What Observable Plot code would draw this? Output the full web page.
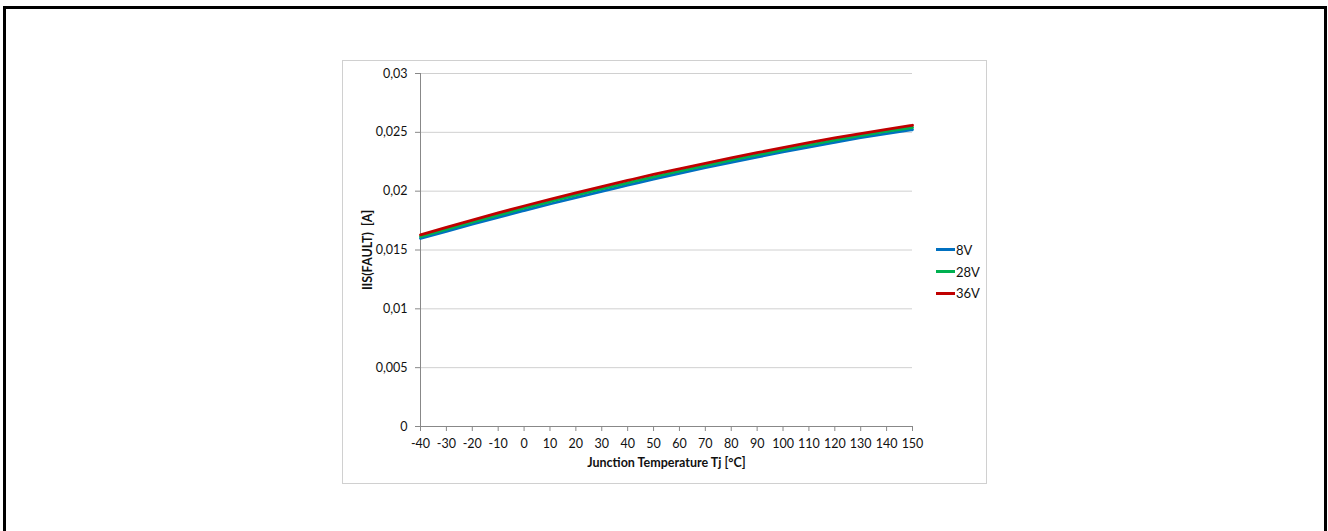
<!DOCTYPE html>
<html>
<head>
<meta charset="utf-8">
<script src="https://cdn.jsdelivr.net/npm/d3@7"></script>
<script src="https://cdn.jsdelivr.net/npm/@observablehq/plot@0.6"></script>
<style>
  html, body { margin: 0; padding: 0; background: #fff; overflow: hidden; }
  body { width: 1328px; height: 531px; position: relative; font-family: Lato, "Open Sans", sans-serif; }
  #outer { position: absolute; left: 3px; top: 6px; width: 1318px; height: 600px; border: 3px solid #000; box-sizing: content-box; }
  #frame { position: absolute; left: 342px; top: 60px; width: 643px; height: 422px; border: 1px solid #d0d0d0; }
  #chart { position: absolute; left: 0; top: 0; }
  #chart svg { background: transparent !important; }
  #chart g[aria-label="x-axis label"] text, #chart g[aria-label="y-axis label"] text { font-weight: bold; white-space: pre; }
  #legend { position: absolute; left: 936px; top: 239px; font-size: 13px; color: #111; }
  #legend .item { display: flex; align-items: center; height: 21.7px; }
  #legend .sw { width: 19px; height: 3px; margin-right: 1px; }
</style>
</head>
<body>
<div id="outer"></div>
<div id="frame"></div>
<div id="chart"></div>
<div id="legend"></div>
<script>
const temps = [-40,-30,-20,-10,0,10,20,30,40,50,60,70,80,90,100,110,120,130,140,150];
const v8  = [0.01598,0.01659,0.01719,0.01778,0.01835,0.01891,0.01946,0.01999,0.02051,0.02103,0.02152,0.02199,0.02245,0.02290,0.02333,0.02375,0.02415,0.02454,0.02490,0.02522];
const v28 = [0.01613,0.01676,0.01737,0.01797,0.01855,0.01911,0.01966,0.02019,0.02071,0.02122,0.02170,0.02217,0.02263,0.02308,0.02351,0.02393,0.02434,0.02472,0.02509,0.02541];
const v36 = [0.01628,0.01692,0.01754,0.01815,0.01874,0.01931,0.01986,0.02039,0.02091,0.02142,0.02190,0.02237,0.02283,0.02327,0.02370,0.02412,0.02452,0.02490,0.02526,0.02560];
const seriesNames = ["8V","28V","36V"];
const seriesColors = ["#0070c0","#00b050","#c00000"];
const yTicks = [0,0.005,0.01,0.015,0.02,0.025,0.03];
const yTickLabels = ["0","0,005","0,01","0,015","0,02","0,025","0,03"];
const xTicks = temps;
const xTitle = "Junction Temperature Tj [°C]";
const yTitle = "IIS(FAULT)  [A]";

const seriesValues = [v8, v28, v36];
const data = [];
seriesNames.forEach((name, i) => temps.forEach((t, j) => data.push({series: name, t, v: seriesValues[i][j]})));

const chart = Plot.plot({
  width: 1328,
  height: 531,
  marginLeft: 420,
  marginRight: 416,
  marginTop: 73,
  marginBottom: 105,
  style: {fontFamily: "Lato, 'Open Sans', sans-serif", fontSize: "12.5px", color: "#111", background: "transparent"},
  x: {domain: [-40, 150]},
  y: {domain: [0, 0.03]},
  color: {domain: seriesNames, range: seriesColors},
  marks: [
    Plot.ruleY(yTicks.slice(1), {stroke: "#d0d0d0", strokeWidth: 1}),
    Plot.axisY({ticks: yTicks, tickFormat: d => yTickLabels[yTicks.indexOf(d)], tickSize: 5, tickPadding: 8, stroke: "#888", label: yTitle, labelAnchor: "center", labelOffset: 57, labelArrow: "none"}),
    Plot.axisX({ticks: xTicks, tickFormat: d => String(d), tickSize: 5, tickPadding: 8, stroke: "#888", label: xTitle, labelAnchor: "center", labelOffset: 40, labelArrow: "none"}),
    Plot.ruleY([0], {stroke: "#888"}),
    Plot.ruleX([-40], {stroke: "#888"}),
    Plot.line(data, {x: "t", y: "v", z: "series", stroke: "series", strokeWidth: 2.8, curve: "monotone-x"})
  ]
});
document.getElementById("chart").appendChild(chart);

const legend = document.getElementById("legend");
seriesNames.forEach((name, i) => {
  const item = document.createElement("div");
  item.className = "item";
  const sw = document.createElement("div");
  sw.className = "sw";
  sw.style.background = seriesColors[i];
  const lab = document.createElement("span");
  lab.textContent = name;
  item.appendChild(sw);
  item.appendChild(lab);
  legend.appendChild(item);
});
</script>
</body>
</html>
